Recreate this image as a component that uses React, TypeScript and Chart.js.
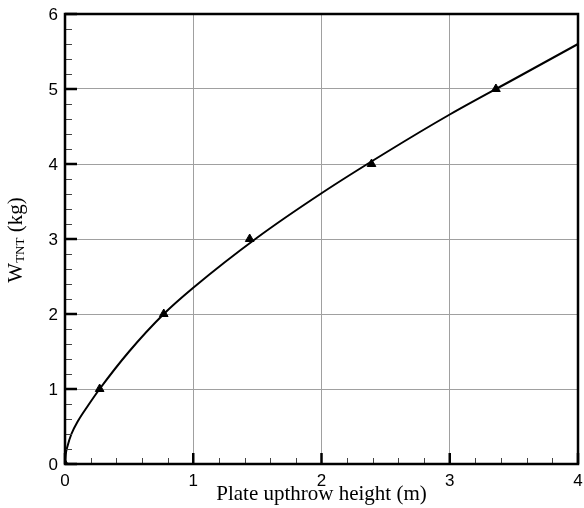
import React, { useEffect, useRef } from "react";
import { Chart, registerables } from "chart.js";

Chart.register(...registerables);

// Fitted curve
const curveX = [0, 0.005, 0.02, 0.05, 0.1, 0.18, 0.27, 0.5, 0.77, 1, 1.5, 2, 2.5, 3, 3.5, 4];
const curveY = [0, 0.12, 0.24, 0.4, 0.57, 0.78, 1.0, 1.5, 2.0, 2.35, 3.02, 3.61, 4.15, 4.66, 5.13, 5.6];

// Triangle markers
const markerX = [0, 0.27, 0.77, 1.44, 2.39, 3.36];
const markerY = [0, 1, 2, 3, 4, 5];

const xTicks = [0, 1, 2, 3, 4];
const yTicks = [0, 1, 2, 3, 4, 5, 6];
const xTitle = "Plate upthrow height (m)";
const yTitleMain = "W";
const yTitleSub = "TNT";
const yTitleTail = " (kg)";

const SANS = '"Liberation Sans", Arial, sans-serif';
const SERIF = '"Liberation Serif", "Times New Roman", serif';

const framePlugin = {
  id: "frame",
  afterDraw(chart: any) {
    const { ctx, chartArea } = chart;
    const xs = chart.scales.x;
    const ys = chart.scales.y;
    const { left, right, top, bottom } = chartArea;
    ctx.save();
    // minor ticks
    ctx.strokeStyle = "#444";
    ctx.lineWidth = 1;
    ctx.beginPath();
    for (let i = 0; i <= 20; i++) {
      const v = i * 0.2;
      if (i % 5 === 0) continue;
      const px = Math.round(xs.getPixelForValue(v)) + 0.5;
      ctx.moveTo(px, bottom);
      ctx.lineTo(px, bottom - 6);
    }
    for (let i = 0; i <= 30; i++) {
      const v = i * 0.2;
      if (i % 5 === 0) continue;
      const py = Math.round(ys.getPixelForValue(v)) + 0.5;
      ctx.moveTo(left, py);
      ctx.lineTo(left + 7, py);
    }
    ctx.stroke();
    // major ticks
    ctx.strokeStyle = "#000";
    ctx.lineWidth = 2.5;
    ctx.beginPath();
    for (const v of xTicks) {
      const px = xs.getPixelForValue(v);
      ctx.moveTo(px, bottom);
      ctx.lineTo(px, bottom - 11);
    }
    for (const v of yTicks) {
      const py = ys.getPixelForValue(v);
      ctx.moveTo(left, py);
      ctx.lineTo(left + 12, py);
    }
    ctx.stroke();
    // border
    ctx.lineWidth = 2.5;
    ctx.strokeRect(left, top, right - left, bottom - top);

    // tick labels
    ctx.fillStyle = "#000";
    ctx.font = `17px ${SANS}`;
    ctx.textAlign = "center";
    ctx.textBaseline = "middle";
    for (const v of xTicks) {
      ctx.fillText(String(v), xs.getPixelForValue(v), bottom + 17);
    }
    ctx.textAlign = "right";
    for (const v of yTicks) {
      ctx.fillText(String(v), left - 7, ys.getPixelForValue(v) + 1);
    }

    // x title
    ctx.font = `21px ${SERIF}`;
    ctx.textAlign = "center";
    ctx.textBaseline = "alphabetic";
    ctx.fillText(xTitle, (left + right) / 2, 500);

    // y title with subscript
    ctx.translate(22, 240);
    ctx.rotate(-Math.PI / 2);
    ctx.textAlign = "left";
    const mainFont = `21px ${SERIF}`;
    const subFont = `13px ${SERIF}`;
    ctx.font = mainFont;
    const w1 = ctx.measureText(yTitleMain).width;
    const w3 = ctx.measureText(yTitleTail).width;
    ctx.font = subFont;
    const w2 = ctx.measureText(yTitleSub).width;
    let x0 = -(w1 + w2 + w3) / 2;
    ctx.font = mainFont;
    ctx.fillText(yTitleMain, x0, 0);
    x0 += w1;
    ctx.font = subFont;
    ctx.fillText(yTitleSub, x0, 2);
    x0 += w2;
    ctx.font = mainFont;
    ctx.fillText(yTitleTail, x0, 0);
    ctx.restore();
  },
};

export default function App() {
  const ref = useRef<HTMLCanvasElement | null>(null);
  useEffect(() => {
    if (!ref.current) return;
    const chart = new Chart(ref.current, {
      type: "scatter",
      data: {
        datasets: [
          {
            data: curveX.map((x, i) => ({ x, y: curveY[i] })),
            showLine: true,
            borderColor: "#000",
            borderWidth: 2,
            pointRadius: 0,
            cubicInterpolationMode: "monotone",
            fill: false,
          } as any,
          {
            data: markerX.map((x, i) => ({ x, y: markerY[i] })),
            showLine: false,
            pointStyle: "triangle",
            pointRadius: 5,
            backgroundColor: "#000",
            borderColor: "#000",
            borderWidth: 1,
          } as any,
        ],
      },
      options: {
        responsive: false,
        animation: false,
        devicePixelRatio: 1,
        layout: { padding: { top: 14, right: 4, left: 0, bottom: 0 } },
        plugins: { legend: { display: false }, tooltip: { enabled: false } },
        scales: {
          x: {
            type: "linear",
            min: 0,
            max: 4,
            afterFit: (s: any) => {
              s.height = 44;
              s.paddingLeft = 0;
              s.paddingRight = 0;
            },
            afterBuildTicks: (s: any) => {
              s.ticks = xTicks.map((v) => ({ value: v }));
            },
            ticks: { display: false },
            grid: { color: "#a0a0a0", lineWidth: 1, drawTicks: false },
            border: { display: false },
          },
          y: {
            type: "linear",
            min: 0,
            max: 6,
            afterFit: (s: any) => {
              s.width = 65;
              s.paddingTop = 0;
              s.paddingBottom = 0;
            },
            afterBuildTicks: (s: any) => {
              s.ticks = yTicks.map((v) => ({ value: v }));
            },
            ticks: { display: false },
            grid: { color: "#a0a0a0", lineWidth: 1, drawTicks: false },
            border: { display: false },
          },
        },
      } as any,
      plugins: [framePlugin],
    });
    return () => chart.destroy();
  }, []);
  return (
    <div style={{ position: "absolute", left: 0, top: 0, width: 584, height: 508, background: "#fff" }}>
      <canvas ref={ref} width={584} height={508} />
    </div>
  );
}
